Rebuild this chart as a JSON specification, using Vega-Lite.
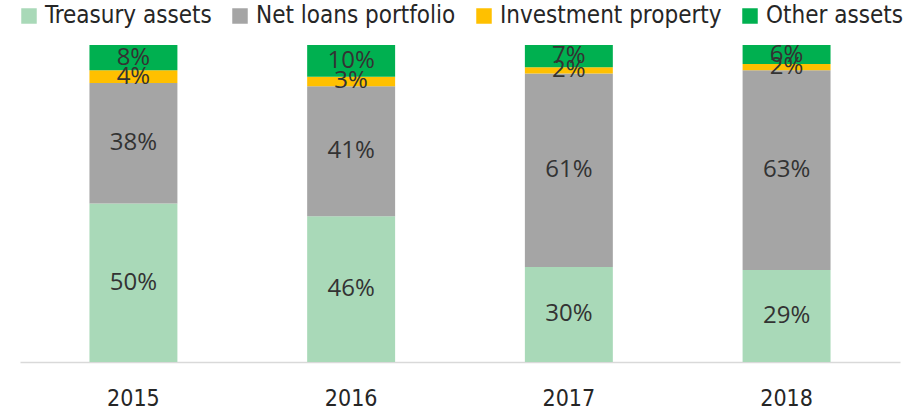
{
  "$schema": "https://vega.github.io/schema/vega-lite/v6.json",
  "width": 880,
  "height": 317,
  "autosize": {"type": "none"},
  "padding": {"left": 20, "top": 45, "right": 17, "bottom": 53},
  "config": {"view": {"stroke": null}, "font": "DejaVu Sans Condensed"},
  "data": {"values": [
    {"year": "2015", "cat": "Treasury assets", "o": 1, "v": 50},
    {"year": "2015", "cat": "Net loans portfolio", "o": 2, "v": 38},
    {"year": "2015", "cat": "Investment property", "o": 3, "v": 4},
    {"year": "2015", "cat": "Other assets", "o": 4, "v": 8},
    {"year": "2016", "cat": "Treasury assets", "o": 1, "v": 46},
    {"year": "2016", "cat": "Net loans portfolio", "o": 2, "v": 41},
    {"year": "2016", "cat": "Investment property", "o": 3, "v": 3},
    {"year": "2016", "cat": "Other assets", "o": 4, "v": 10},
    {"year": "2017", "cat": "Treasury assets", "o": 1, "v": 30},
    {"year": "2017", "cat": "Net loans portfolio", "o": 2, "v": 61},
    {"year": "2017", "cat": "Investment property", "o": 3, "v": 2},
    {"year": "2017", "cat": "Other assets", "o": 4, "v": 7},
    {"year": "2018", "cat": "Treasury assets", "o": 1, "v": 29},
    {"year": "2018", "cat": "Net loans portfolio", "o": 2, "v": 63},
    {"year": "2018", "cat": "Investment property", "o": 3, "v": 2},
    {"year": "2018", "cat": "Other assets", "o": 4, "v": 6}
  ]},
  "transform": [
    {"stack": "v", "groupby": ["year"], "sort": [{"field": "o"}], "as": ["y0", "y1"]},
    {"calculate": "(datum.y0 + datum.y1) / 2", "as": "ym"},
    {"calculate": "datum.v + '%'", "as": "lab"}
  ],
  "encoding": {
    "x": {"field": "year", "type": "nominal", "scale": {"paddingInner": 0.596, "paddingOuter": 0.319},
      "axis": {"title": null, "labelAngle": 0, "ticks": false, "domainColor": "#d9d9d9", "domainWidth": 1.5, "labelFontSize": 23, "labelColor": "#262626", "labelPadding": 25, "labelFont": "DejaVu Sans Condensed"}}
  },
  "layer": [
    {"mark": {"type": "bar"},
      "encoding": {
        "y": {"field": "y0", "type": "quantitative", "scale": {"domain": [0, 100]}, "axis": null},
        "y2": {"field": "y1"},
        "color": {"field": "cat", "type": "nominal",
          "scale": {"domain": ["Treasury assets", "Net loans portfolio", "Investment property", "Other assets"], "range": ["#a9d9b8", "#a5a5a5", "#ffc000", "#00b050"]},
          "legend": {"title": null, "orient": "none", "legendX": -3, "legendY": -41, "direction": "horizontal", "symbolType": "square", "symbolSize": 240, "symbolStrokeWidth": 0, "labelFontSize": 24, "labelColor": "#262626", "labelFont": "DejaVu Sans Condensed", "labelLimit": 0, "columnPadding": 16, "symbolOffset": 0, "labelOffset": 4}}
      }
    },
    {"mark": {"type": "text", "fontSize": 24, "color": "#333333", "font": "Open Sans", "baseline": "middle"},
      "encoding": {
        "y": {"field": "ym", "type": "quantitative", "scale": {"domain": [0, 100]}},
        "text": {"field": "lab"}
      }
    }
  ]
}
